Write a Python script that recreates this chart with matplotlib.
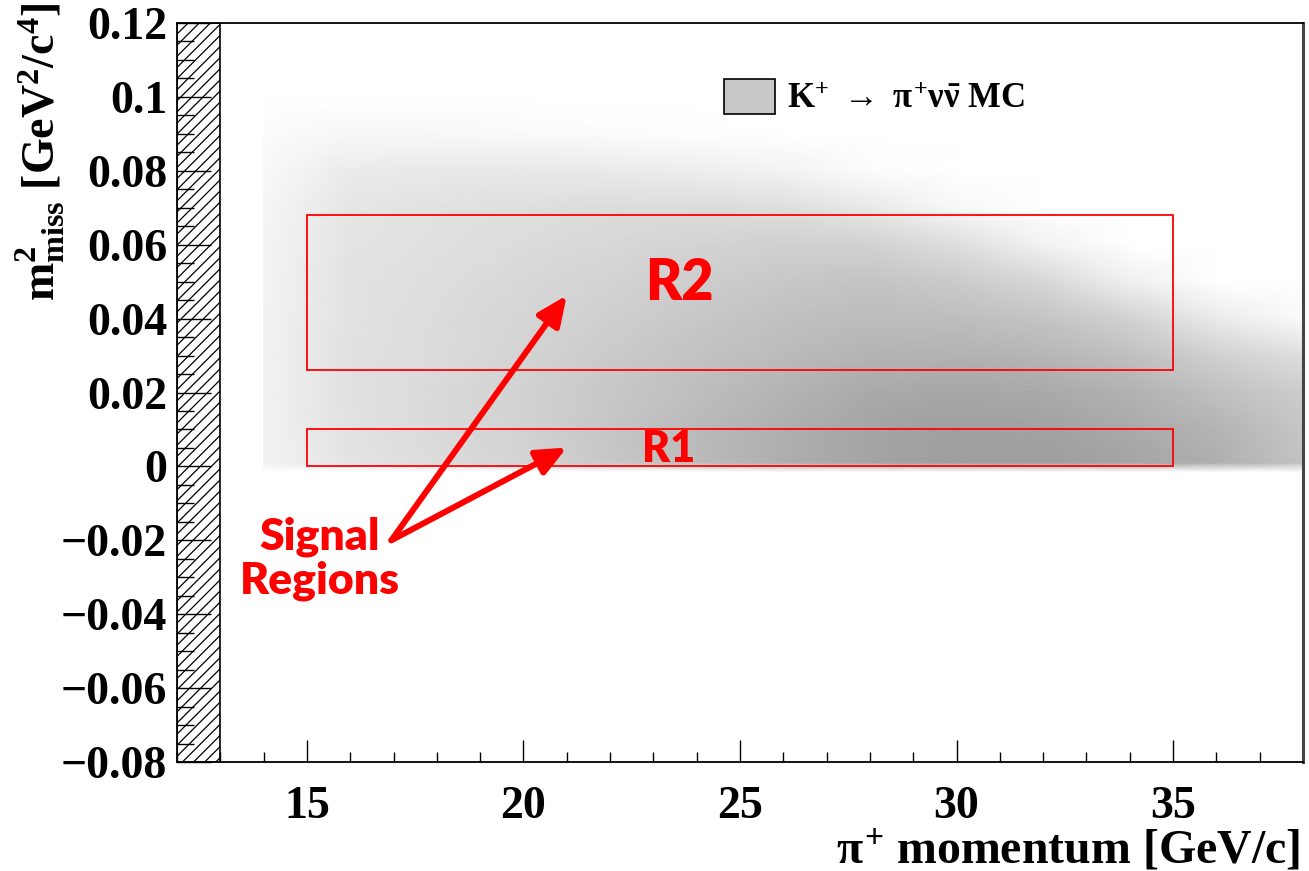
import numpy as np
import matplotlib
matplotlib.use("Agg")
import matplotlib.pyplot as plt
from matplotlib.colors import LinearSegmentedColormap
from matplotlib.patches import Patch, Rectangle
from matplotlib.ticker import FixedLocator, MultipleLocator

plt.rcParams.update(
    {
        "font.family": "Liberation Serif",
        "font.weight": "bold",
        "mathtext.fontset": "custom",
        "mathtext.rm": "Liberation Serif:bold",
        "mathtext.it": "Liberation Serif:bold",
        "mathtext.bf": "Liberation Serif:bold",
        "hatch.linewidth": 0.9,
    }
)

RED = "#ff0000"
SANS = "Lato"

# pi+ momentum nodes [GeV/c] and m2_miss nodes [GeV^2/c^4] of the MC map
p_nodes = [14, 16, 18, 20, 22, 24, 26, 28, 30, 32, 34, 36, 38]
m2_nodes = [-0.0015, 0.001, 0.01, 0.02, 0.03, 0.04, 0.05, 0.06, 0.07, 0.08, 0.09, 0.10]

# entries per node (rows follow m2_nodes, columns follow p_nodes)
counts = [
    [0, 0, 0, 0, 0, 0, 0, 0, 0, 0, 0, 0, 0],
    [12, 27, 35, 43, 55, 67, 80, 90, 97, 97, 90, 80, 60],
    [12, 29, 37, 45, 57, 69, 80, 90, 95, 93, 85, 75, 57],
    [12, 30, 37, 45, 55, 65, 75, 85, 88, 85, 77, 63, 50],
    [12, 30, 35, 43, 52, 60, 68, 75, 77, 73, 63, 47, 33],
    [12, 29, 35, 41, 48, 55, 62, 67, 65, 59, 45, 20, 5],
    [11, 29, 33, 39, 44, 49, 55, 59, 52, 40, 15, 0, 0],
    [10, 27, 31, 35, 39, 43, 47, 45, 33, 13, 0, 0, 0],
    [9, 25, 29, 32, 35, 35, 33, 22, 7, 0, 0, 0, 0],
    [6, 20, 22, 23, 21, 17, 12, 3, 0, 0, 0, 0, 0],
    [3, 8, 7, 5, 3, 1, 0, 0, 0, 0, 0, 0, 0],
    [0, 0, 0, 0, 0, 0, 0, 0, 0, 0, 0, 0, 0],
]

# signal regions: (p_min, p_max, m2_min, m2_max)
regions = {
    "R1": (15, 35, 0.0, 0.010),
    "R2": (15, 35, 0.026, 0.068),
}
region_label_pos = {"R1": (23.35, 0.0046), "R2": (23.6, 0.0496)}
region_label_size = {"R1": 31, "R2": 40}

arrow_start = (16.95, -0.0200)
arrow_ends = [(21.0, 0.0463), (21.0, 0.0051)]
note_pos = (15.3, -0.0250)

excluded_p = (12, 13)

y_ticks = [-0.08, -0.06, -0.04, -0.02, 0.0, 0.02, 0.04, 0.06, 0.08, 0.1, 0.12]
y_ticklabels = ["\u22120.08", "\u22120.06", "\u22120.04", "\u22120.02", "0",
                "0.02", "0.04", "0.06", "0.08", "0.1", "0.12"]
x_ticks = [15, 20, 25, 30, 35]

fig = plt.figure(figsize=(13.09, 8.71), dpi=100)
ax = fig.add_axes([0.1352, 0.1251, 0.8602, 0.8485])

cmap = LinearSegmentedColormap.from_list("mono", ["white", "black"])
ax.pcolormesh(p_nodes, m2_nodes, np.array(counts), shading="gouraud",
              cmap=cmap, vmin=0, vmax=255, zorder=0)

# momentum range outside the acceptance
ax.axvspan(*excluded_p, facecolor="white", edgecolor="black", hatch="///",
           lw=1.2, zorder=1)

for name, (x0, x1, y0, y1) in regions.items():
    ax.add_patch(Rectangle((x0, y0), x1 - x0, y1 - y0, fill=False,
                           edgecolor=RED, lw=1.3, zorder=3))
    ax.text(*region_label_pos[name], name, color=RED, family=SANS,
            fontweight="heavy", fontsize=region_label_size[name],
            ha="center", va="center", zorder=4)

for end in arrow_ends:
    ax.annotate("", xy=end, xytext=arrow_start,
                arrowprops=dict(arrowstyle="-|>,head_length=0.9,head_width=0.4",
                                mutation_scale=20, lw=4.3, color=RED,
                                shrinkA=0, shrinkB=0),
                zorder=4)
ax.text(*note_pos, "Signal\nRegions", color=RED, family=SANS, fontweight="heavy",
        fontsize=32, ha="center", va="center", multialignment="center",
        linespacing=1.1, zorder=4)

ax.set_xlim(12, 38)
ax.set_ylim(-0.08, 0.12)

ax.yaxis.set_major_locator(FixedLocator(y_ticks))
ax.set_yticklabels(y_ticklabels)
ax.yaxis.set_minor_locator(MultipleLocator(0.005))
ax.xaxis.set_major_locator(FixedLocator(x_ticks))
ax.xaxis.set_minor_locator(MultipleLocator(1))

ax.tick_params(axis="both", which="both", direction="in", top=False, right=False,
               color="black", width=1.0, labelsize=33)
ax.tick_params(axis="y", which="major", length=24.5, pad=7)
ax.tick_params(axis="y", which="minor", length=12)
ax.tick_params(axis="x", which="major", length=16, pad=17)
ax.tick_params(axis="x", which="minor", length=7)

for spine in ax.spines.values():
    spine.set_linewidth(1.3)
    spine.set_color("black")
ax.spines["right"].set_color("#444444")
ax.spines["right"].set_linewidth(2.2)

leg = ax.legend(handles=[Patch(facecolor="#c8c8c8", edgecolor="black", lw=1.2,
                               label=r"K$^{+}$ $\rightarrow$ $\pi^{+}\nu\bar{\nu}$ MC")],
                loc="center left", bbox_to_anchor=(0.486, 0.899), frameon=False,
                fontsize=25, handlelength=1.45, handleheight=1.15, handletextpad=0.35,
                borderpad=0, borderaxespad=0)

fig.text(40 / 1309, 1 - 3 / 871, r"m$^{2}_{miss}$ [GeV$^{2}$/c$^{4}$]",
         rotation=90, ha="center", va="top", fontsize=33)
fig.text(1300 / 1309, 1 - 850 / 871, r"$\pi^{+}$ momentum [GeV/c]",
         ha="right", va="center", fontsize=34.5)

fig.savefig("out.png", dpi=100)
